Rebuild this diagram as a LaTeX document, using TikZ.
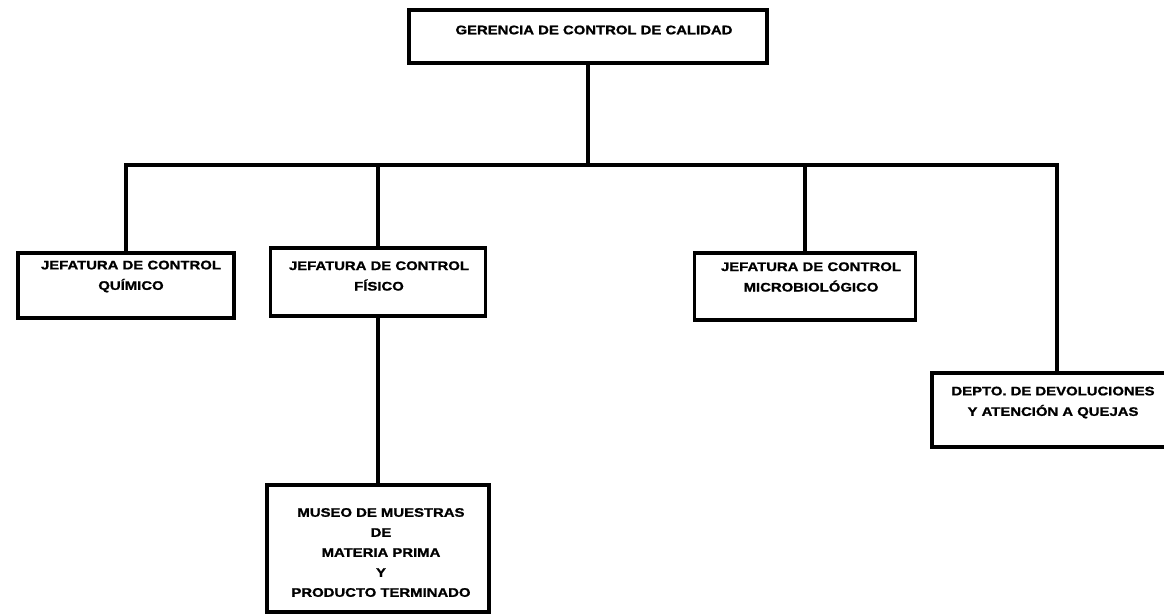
\documentclass[tikz,border=0pt]{standalone}
\usepackage{fontspec}
\newfontfamily\orgfont{Liberation Sans}[FakeStretch=1.2,BoldFeatures={FakeBold=1.2}]
\begin{document}
\begin{tikzpicture}[x=1pt,y=-1pt,
  orgbox/.style={draw=black,line width=3.4pt,fill=none,inner sep=0pt,
    minimum width=#1,minimum height=60pt},
  orglabel/.style={font=\orgfont\bfseries\fontsize{12.4pt}{20.5pt}\selectfont,
    align=center,inner sep=0pt,text=black},
  conn/.style={draw=black,line width=3.6pt,line join=miter}]
\useasboundingbox (0,0) rectangle (1164,614);
\clip (0,0) rectangle (1164,614);

% boxes
\node[orgbox=358pt,minimum height=53pt] (ger) at (588,36.5) {};
\node[orgbox=216pt,minimum height=65pt] (qui) at (126,285.5) {};
\node[orgbox=215pt,minimum height=68pt] (fis) at (378,282) {};
\node[orgbox=221pt,minimum height=67pt] (mic) at (805,286.5) {};
\node[orgbox=250pt,minimum height=74pt] (dep) at (1057,410) {};
\node[orgbox=222pt,minimum height=127pt] (mus) at (378,548.5) {};

% labels
\node[orglabel] (gerT) at (594,30) {GERENCIA DE CONTROL DE CALIDAD};
\node[orglabel] (quiT) at (131,276.5) {JEFATURA DE CONTROL\\QUÍMICO};
\node[orglabel] (fisT) at (379,276) {JEFATURA DE CONTROL\\FÍSICO};
\node[orglabel] (micT) at (811,277) {JEFATURA DE CONTROL\\MICROBIOLÓGICO};
\node[orglabel] (depT) at (1053,402.5) {DEPTO. DE DEVOLUCIONES\\Y ATENCIÓN A QUEJAS};
\node[orglabel,font=\orgfont\bfseries\fontsize{12.4pt}{20pt}\selectfont] (musT) at (381,552.5)
  {MUSEO DE MUESTRAS\\DE\\MATERIA PRIMA\\Y\\PRODUCTO TERMINADO};

% connectors
\coordinate (bar) at (0,165);
\draw[conn] (ger.south) -- (ger.south |- bar);
\draw[conn] (qui.north) |- (dep.north |- bar) -- (dep.north);
\draw[conn] (fis.north) -- (fis.north |- bar);
\draw[conn] (mic.north) -- (mic.north |- bar);
\draw[conn] (fis.south) -- (mus.north);
\end{tikzpicture}
\end{document}
